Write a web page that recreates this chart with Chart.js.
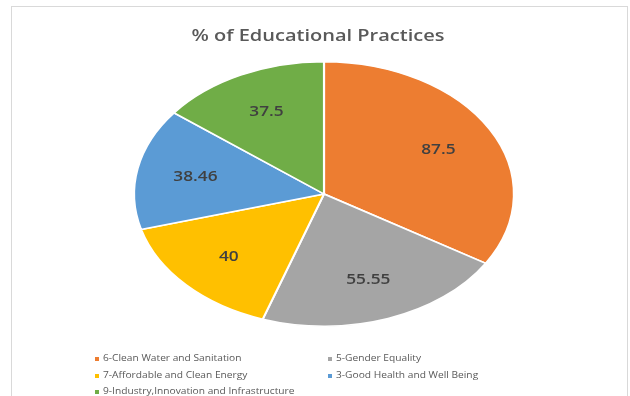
<!DOCTYPE html>
<html>
<head>
<meta charset="utf-8">
<script src="https://cdn.jsdelivr.net/npm/chart.js@4/dist/chart.umd.min.js"></script>
<style>
  html, body { margin: 0; padding: 0; background: #fff; }
  #wrap { position: relative; width: 630px; height: 396px; }
</style>
</head>
<body>
<div id="wrap"><canvas id="pie-chart" width="630" height="396"></canvas></div>
<script>
const chartTitle = '% of Educational Practices';
const categories = [
	'6-Clean Water and Sanitation',
	'5-Gender Equality',
	'7-Affordable and Clean Energy',
	'3-Good Health and Well Being',
	'9-Industry,Innovation and Infrastructure',
];
const practiceValues = [ 87.5, 55.55, 40, 38.46, 37.5 ];
const sliceColors = [ '#ED7D31', '#A5A5A5', '#FFC000', '#5B9BD5', '#70AD47' ];

// the source picture is stretched sideways, so the pie is an ellipse
const STRETCH_X = 191 / 133;
const FONT = '"Open Sans", "Liberation Sans", sans-serif';

function stretchedText( ctx, text, x, y, sx ) {
	ctx.save();
	ctx.translate( x, y );
	ctx.scale( sx, 1 );
	ctx.fillText( text, 0, 0 );
	ctx.restore();
}

const ellipsePlugin = {
	id: 'ellipse',
	beforeDraw( chart ) {
		const ctx = chart.ctx;
		ctx.save();
		ctx.strokeStyle = '#d9d9d9';
		ctx.lineWidth = 1;
		ctx.strokeRect( 11.5, 6.5, 616, 420 );
		ctx.restore();
	},
	beforeDatasetsDraw( chart ) {
		const ctx = chart.ctx;
		const cx = chart.getDatasetMeta( 0 ).data[ 0 ].x;
		ctx.save();
		ctx.translate( cx, 0 );
		ctx.scale( STRETCH_X, 1 );
		ctx.translate( -cx, 0 );
	},
	afterDatasetsDraw( chart ) {
		const ctx = chart.ctx;
		ctx.restore();

		// value labels
		ctx.save();
		ctx.fillStyle = '#404040';
		ctx.font = '600 15px ' + FONT;
		ctx.textAlign = 'center';
		ctx.textBaseline = 'middle';
		chart.getDatasetMeta( 0 ).data.forEach( ( arc, i ) => {
			const mid = ( arc.startAngle + arc.endAngle ) / 2;
			const r = arc.outerRadius * 0.69;
			const x = arc.x + Math.cos( mid ) * r * STRETCH_X;
			const y = arc.y + Math.sin( mid ) * r;
			stretchedText( ctx, String( practiceValues[ i ] ), x, y, 1.15 );
		} );
		ctx.restore();
	},
	afterDraw( chart ) {
		const ctx = chart.ctx;
		ctx.save();
		// title
		ctx.fillStyle = '#595959';
		ctx.font = '600 16px ' + FONT;
		ctx.textAlign = 'center';
		ctx.textBaseline = 'middle';
		stretchedText( ctx, chartTitle, 318, 36, 1.25 );

		// legend, two columns
		ctx.font = '8.5px ' + FONT;
		ctx.textAlign = 'left';
		const colX = [ 97, 330 ];
		const rowY = [ 359, 376, 392 ];
		categories.forEach( ( label, i ) => {
			const x = colX[ i % 2 ];
			const y = rowY[ Math.floor( i / 2 ) ];
			ctx.fillStyle = sliceColors[ i ];
			ctx.fillRect( x - 2, y - 2, 4, 4 );
			ctx.fillStyle = '#595959';
			stretchedText( ctx, label, x + 6, y, 1.2 );
		} );
		ctx.restore();
	},
};

new Chart( document.getElementById( 'pie-chart' ), {
	type: 'pie',
	data: {
		labels: categories,
		datasets: [ {
			data: practiceValues,
			backgroundColor: sliceColors,
			borderColor: '#ffffff',
			borderWidth: 1.5,
			clip: false,
		} ],
	},
	options: {
		responsive: false,
		animation: false,
		layout: {
			padding: { left: 191, right: 173, top: 61, bottom: 69 },
		},
		plugins: {
			legend: { display: false },
			tooltip: { enabled: false },
		},
	},
	plugins: [ ellipsePlugin ],
} );
</script>
</body>
</html>
